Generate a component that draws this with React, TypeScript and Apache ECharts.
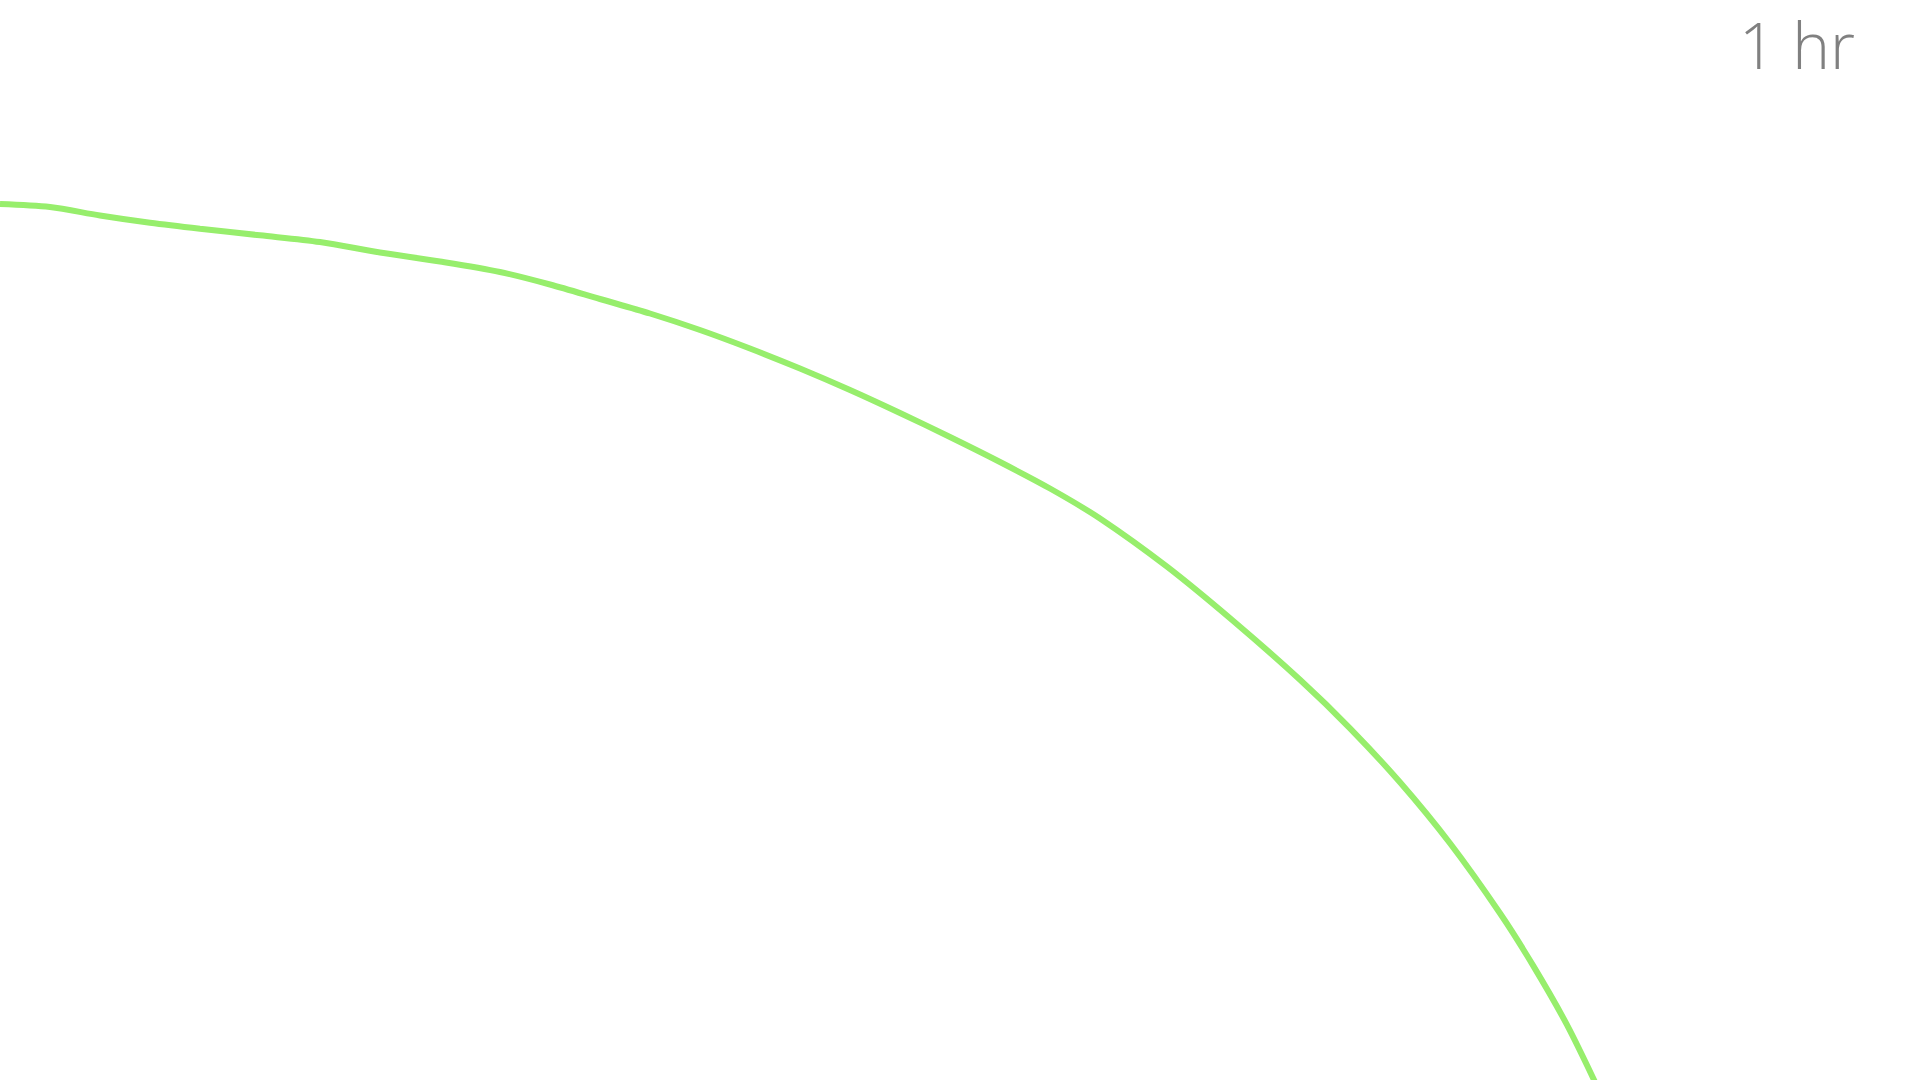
import React, { useEffect, useRef } from "react";
import * as echarts from "echarts";

// Curve samples (x, y); y grows downward
const xValues = [0, 50, 100, 150, 200, 260, 320, 380, 440, 500, 550, 600, 650, 700, 750, 800, 850, 900, 950, 1000, 1050, 1100, 1167, 1233, 1300, 1350, 1400, 1450, 1500, 1533, 1567, 1600];
const yValues = [204, 207, 215.5, 222.8, 228.8, 235.3, 242, 252.5, 261.5, 272, 284.5, 299, 313.5, 330, 348.5, 368.5, 390, 413, 437, 462, 488.5, 518.5, 566.7, 620.8, 679.8, 728.3, 782.3, 843.3, 913.3, 965.4, 1024.9, 1092.6];
const annotationText = "1 hr";

export default function App() {
  const ref = useRef<HTMLDivElement>(null);
  useEffect(() => {
    document.body.style.margin = "0";
    if (!ref.current) return;
    const chart = echarts.init(ref.current, null, { renderer: "svg" });
    const data = xValues.map((x, i) => [x, yValues[i]]);
    chart.setOption({
      animation: false,
      backgroundColor: "#ffffff",
      grid: { left: 0, right: 0, top: 0, bottom: 0, containLabel: false },
      xAxis: { type: "value", min: 0, max: 1920, show: false },
      yAxis: { type: "value", min: 0, max: 1080, inverse: true, show: false },
      series: [
        {
          type: "line",
          data,
          smooth: 0.3,
          symbol: "none",
          clip: true,
          lineStyle: { color: "#97ee6c", width: 6 },
        },
      ],
      graphic: [
        {
          type: "text",
          left: 1739,
          top: 12,
          style: {
            text: annotationText,
            fill: "#808080",
            font: "300 64px 'Open Sans'",
          },
        },
      ],
    });
    return () => chart.dispose();
  }, []);
  return <div ref={ref} style={{ width: "1920px", height: "1080px" }} />;
}
